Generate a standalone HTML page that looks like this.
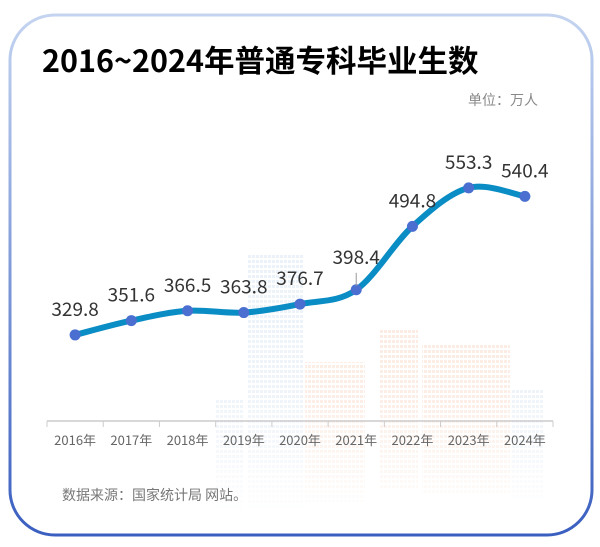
<!DOCTYPE html>
<html><head><meta charset="utf-8">
<style>
html,body{margin:0;padding:0;background:#fff;}
body{width:600px;height:547px;position:relative;overflow:hidden;font-family:"Noto Sans CJK SC","Liberation Sans",sans-serif;}
svg text{font-family:"Noto Sans CJK SC","Liberation Sans",sans-serif;}
</style></head>
<body>
<svg id="chart" width="600" height="547" style="position:absolute;left:0;top:0">
<defs>
<linearGradient id="bord" x1="0" y1="0" x2="0" y2="1">
<stop offset="0" stop-color="#c4d4f0"/><stop offset="1" stop-color="#3a5fc0"/>
</linearGradient>
<linearGradient id="fade" x1="0" y1="0" x2="0" y2="1">
<stop offset="0" stop-color="#fff" stop-opacity="0"/><stop offset="0.55" stop-color="#fff" stop-opacity="0.2"/><stop offset="1" stop-color="#fff" stop-opacity="1"/>
</linearGradient>
<pattern id="winB" width="4" height="5" patternUnits="userSpaceOnUse"><rect width="3" height="3" fill="#dbe8f5"/></pattern>
<pattern id="winO" width="4" height="5" patternUnits="userSpaceOnUse"><rect width="3" height="3" fill="#fbd9c8"/></pattern>
</defs>
<rect x="10" y="15" width="582" height="520" rx="45" fill="#fff" stroke="url(#bord)" stroke-width="3"/>
<g opacity="0.55">
<rect x="215" y="400" width="28" height="110" fill="url(#winB)"/>
<rect x="248" y="255" width="55" height="255" fill="url(#winB)"/>
<rect x="305" y="362" width="60" height="140" fill="url(#winO)"/>
<rect x="380" y="330" width="38" height="160" fill="url(#winO)"/>
<rect x="422" y="345" width="88" height="150" fill="url(#winO)"/>
<rect x="512" y="390" width="32" height="110" fill="url(#winB)"/>
</g>
<rect x="200" y="250" width="360" height="270" fill="url(#fade)"/>
<text x="42" y="72" font-size="30.5" font-weight="bold" fill="#000">2016~2024年普通专科毕业生数</text>
<text x="538" y="105" font-size="14" fill="#888" text-anchor="end">单位：万人</text>
<line x1="47" y1="421" x2="553" y2="421" stroke="#ccc" stroke-width="1.5"/>
<g id="ticks"></g>
<g id="marks"></g>
<text x="62" y="500" font-size="14" fill="#777">数据来源：国家统计局 网站。</text>
</svg>
<script>
const categories=["2016年","2017年","2018年","2019年","2020年","2021年","2022年","2023年","2024年"];
const values=[329.8,351.6,366.5,363.8,376.7,398.4,494.8,553.3,540.4];
const labels=["329.8","351.6","366.5","363.8","376.7","398.4","494.8","553.3","540.4"];
const NS="http://www.w3.org/2000/svg";
const x0=47,x1=553,step=(x1-x0)/categories.length;
function xs(i){return x0+step*(i+0.5);}
function ys(v){return 421-(v-199)*0.658;}
const ticks=document.getElementById('ticks'),marks=document.getElementById('marks');
function mk(tag,attrs,parent){const e=document.createElementNS(NS,tag);for(const k in attrs)e.setAttribute(k,attrs[k]);parent.appendChild(e);return e;}
for(let i=0;i<=categories.length;i++){
  const t=mk('line',{x1:x0+step*i,x2:x0+step*i,y1:421,y2:427,stroke:'#ccc'},ticks);
  
  
}
categories.forEach((c,i)=>{
  const t=mk('text',{x:xs(i),y:445,'font-size':13,fill:'#666','text-anchor':'middle'},ticks);
  t.textContent=c;
  
  
});
const pts=values.map((v,i)=>[xs(i),ys(v)]);
let d=`M${pts[0][0]},${pts[0][1]}`;
for(let i=0;i<pts.length-1;i++){
  const p0=pts[i-1]||pts[i],p1=pts[i],p2=pts[i+1],p3=pts[i+2]||p2,k=1/6;
  d+=` C${p1[0]+(p2[0]-p0[0])*k},${p1[1]+(p2[1]-p0[1])*k} ${p2[0]-(p3[0]-p1[0])*k},${p2[1]-(p3[1]-p1[1])*k} ${p2[0]},${p2[1]}`;
}
const line=mk('path',{d:d,fill:'none',stroke:'#0a8cc4','stroke-width':6,'stroke-linecap':'round'},marks);


pts.forEach((p,i)=>{
  const c=mk('circle',{cx:p[0],cy:p[1],r:5.5,fill:'#4a6fd1'},marks);
  
  
  let off=19;
  if(i===5){off=26;const l=mk('line',{x1:p[0],x2:p[0],y1:p[1]-4,y2:p[1]-17,stroke:'#999'},marks);
    
    }
  const t=mk('text',{x:p[0],y:p[1]-off,'font-size':19,fill:'#333','text-anchor':'middle'},marks);
  t.textContent=labels[i];
  
  
});
</script>
</body></html>
